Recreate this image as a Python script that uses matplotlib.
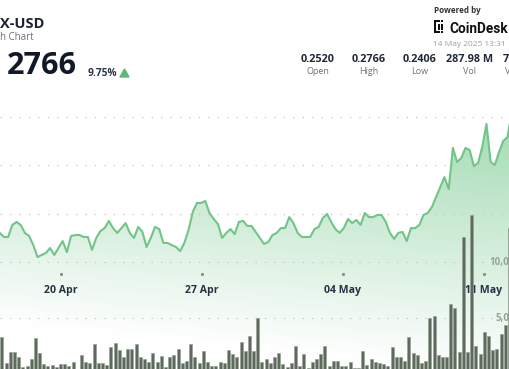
import numpy as np
import pandas as pd
import matplotlib
matplotlib.use("Agg")
import matplotlib.pyplot as plt
import matplotlib.dates as mdates
from matplotlib.patches import Polygon, Rectangle
from matplotlib.transforms import blended_transform_factory

W, H, DPI = 510, 369, 100

# ---------------- data ----------------
prices = [
    0.2150, 0.2129, 0.2129, 0.2191, 0.2207, 0.2191, 0.2150, 0.2134, 0.2087, 0.2025,
    0.2036, 0.2046, 0.2072, 0.2036, 0.2072, 0.2108, 0.2051, 0.2134, 0.2139, 0.2139,
    0.2129, 0.2129, 0.2062, 0.2124, 0.2160, 0.2175, 0.2212, 0.2175, 0.2150, 0.2175,
    0.2201, 0.2150, 0.2124, 0.2181, 0.2155, 0.2077, 0.2124, 0.2181, 0.2170, 0.2098,
    0.2098, 0.2087,
    0.2077, 0.2056, 0.2098, 0.2165, 0.2258, 0.2305, 0.2305, 0.2315, 0.2253, 0.2222,
    0.2196, 0.2124, 0.2150, 0.2170, 0.2144, 0.2207, 0.2212, 0.2186, 0.2186, 0.2155,
    0.2124, 0.2093, 0.2103, 0.2139, 0.2150, 0.2175, 0.2175, 0.2232, 0.2201, 0.2150,
    0.2129, 0.2129, 0.2129, 0.2170, 0.2181, 0.2227, 0.2248, 0.2207, 0.2170, 0.2150,
    0.2175, 0.2222, 0.2201, 0.2217, 0.2191, 0.2253, 0.2232, 0.2232, 0.2243, 0.2243,
    0.2207, 0.2150, 0.2119, 0.2150, 0.2155, 0.2108, 0.2175, 0.2175, 0.2191, 0.2243,
    0.2253, 0.2284, 0.2336, 0.2388, 0.2439, 0.2377, 0.2590, 0.2517, 0.2538, 0.2590,
    0.2579, 0.2496, 0.2512, 0.2595, 0.2714, 0.2517, 0.2502, 0.2569, 0.2626, 0.2646,
    0.2766,
]
volumes = [
    3304, 982, 1964, 1964, 1518, 625, 714, 1339, 3214, 1875,
    893, 714, 804, 625, 893, 893, 714, 1071, 268, 1696,
    1071, 982, 2679, 982, 982, 804, 2411, 2768, 2143, 1518,
    2232, 2232, 2679, 1518, 1339, 1071, 1875, 1071, 1607, 625,
    1518,
    1696, 2232, 982, 1161, 2679, 1518, 982, 2054, 1071, 714,
    714, 1071, 982, 2143, 1786, 1518, 2857, 2054, 3393, 2054,
    5000, 1071, 1339, 982, 1518, 1875, 893, 625, 982, 2500,
    714, 1786, 536, 1071, 1339, 1786, 2500, 714, 1161, 1161,
    714, 714, 1071, 536, 536, 2054, 804, 1339, 1071, 982,
    893, 714, 2411, 1518, 1518, 1161, 3304, 1875, 1696, 982,
    1161, 5000, 5179, 1696, 1518, 1518, 6250, 5893, 1964, 12232,
    1964, 14196, 2500, 1786, 3750, 3393, 2143, 2232, 3571, 4375,
    13036,
]
times = pd.date_range("2025-04-16 23:00", periods=len(prices), freq="5h")
bar_times = times[:len(volumes)] + pd.Timedelta(hours=2.5)

tick_dates = pd.to_datetime(["2025-04-20", "2025-04-27", "2025-05-04", "2025-05-11"])
tick_labels = ["20 Apr", "27 Apr", "04 May", "11 May"]
price_grid = [0.200, 0.225, 0.250, 0.275]
vol_ticks = [5000, 10000]
vol_tick_labels = ["5,0", "10,0"]          # as far as the reference shows them

title_text = "X-USD"
subtitle_text = "h Chart"
last_price = "2766"
change_text = "9.75%"
stat_values = ["0.2520", "0.2766", "0.2406", "287.98 M", "7"]
stat_labels = ["Open", "High", "Low", "Vol", "V"]
stamp_text = "14 May 2025 13:31"

# ---------------- styling ----------------
plt.rcParams["font.family"] = ["Open Sans", "DejaVu Sans"]
LINE = "#72c487"
FILLC = np.array([92, 191, 122]) / 255.0
BAR = "#5f6a5e"
BAR_EDGE = "#98a396"
GRID = "#c4c4c4"
DARK = "#1b2333"
GREY = "#6b7280"

fig = plt.figure(figsize=(W / DPI, H / DPI), dpi=DPI)
fig.patch.set_facecolor("white")

# pixel scale of the chart area
px_per_day = 20.14
x0 = mdates.date2num(pd.Timestamp("2025-04-20")) - 61 / px_per_day
x1 = x0 + W / px_per_day
px_per_price = 48.3 / 0.025
p_lo = 0.275 - (H - 117) / px_per_price
p_hi = 0.275 + 117 / px_per_price
px_per_vol = 56 / 5000
v_lo = (374 - H) / px_per_vol
v_hi = 374 / px_per_vol

ax_bg = fig.add_axes([0, 0, 1, 1], zorder=1)
ax_vol = fig.add_axes([0, 0, 1, 1], zorder=2)
ax_ln = fig.add_axes([0, 0, 1, 1], zorder=3)
for a in (ax_bg, ax_vol, ax_ln):
    a.set_xlim(x0, x1)
    a.axis("off")
    a.patch.set_alpha(0)
ax_bg.set_ylim(p_lo, p_hi)
ax_ln.set_ylim(p_lo, p_hi)
ax_vol.set_ylim(v_lo, v_hi)

tnum = mdates.date2num(times)
# gradient fill under the price line
yy, xx = np.mgrid[0:H, 0:W]
alpha = np.clip(0.0022 * (325 + 0.1 * xx - yy), 0, 0.58)
img = np.zeros((H, W, 4))
img[..., :3] = FILLC
img[..., 3] = alpha
im = ax_bg.imshow(img, extent=(x0, x1, p_lo, p_hi), origin="upper",
                  aspect="auto", zorder=1, interpolation="bilinear")
verts = [(tnum[0], p_lo - 1)] + list(zip(tnum, prices)) + [(tnum[-1], p_lo - 1)]
poly = Polygon(verts, closed=True, facecolor="none", edgecolor="none")
ax_bg.add_patch(poly)
im.set_clip_path(poly)
ax_bg.set_xlim(x0, x1)
ax_bg.set_ylim(p_lo, p_hi)

# dotted grid lines
for g in price_grid:
    ax_bg.axhline(g, color=GRID, lw=0.8, dashes=(1.2, 7.3), zorder=2)
ax_vol.axhline(vol_ticks[0], color=GRID, lw=0.8, dashes=(1.2, 7.3), zorder=0)

# date ticks
tr = blended_transform_factory(ax_bg.transData, ax_bg.transAxes)
ax_bg.plot(mdates.date2num(tick_dates), [1 - 274 / H] * len(tick_dates), ls="none",
           marker="s", ms=1.1, color="#8c8c8c", transform=tr, zorder=3)
for d, lab in zip(tick_dates, tick_labels):
    ax_bg.text(mdates.date2num(d), 1 - 292.5 / H, lab, transform=tr, ha="center",
               va="baseline", fontsize=7.6, fontweight="bold", color="#283142", zorder=3)

# volume axis labels (as far as visible at the right edge)
vtr = blended_transform_factory(ax_vol.transAxes, ax_vol.transData)
ax_vol.text(489 / W, vol_ticks[1], vol_tick_labels[1], transform=vtr, ha="left",
            va="center", fontsize=7, fontweight="bold", color="#9aa39a", zorder=0)
ax_vol.text(496 / W, vol_ticks[0], vol_tick_labels[0], transform=vtr, ha="left",
            va="center", fontsize=7, fontweight="bold", color="#9aa39a", zorder=0)

# volume bars
bw = 3.0 / px_per_day
ax_vol.bar(mdates.date2num(bar_times), volumes, width=bw, color=BAR,
           edgecolor=BAR_EDGE, linewidth=0.5, zorder=2)

# price line
ax_ln.plot(tnum, prices, color=LINE, lw=1.5, solid_joinstyle="round", zorder=3)

# ---------------- header ----------------
def ftext(x, y, s, **kw):
    fig.text(x / W, 1 - y / H, s, va="baseline", **kw)

ftext(0.5, 28, title_text, ha="left", fontsize=10.5, fontweight="bold", color=DARK)
ftext(0.5, 40, subtitle_text, ha="left", fontsize=7, color=GREY)
ftext(77, 74, last_price, ha="right", fontsize=22, fontweight="bold", color="#111827")
ftext(88, 76, change_text, ha="left", fontsize=7.3, fontweight="bold", color="#2d3748")
fig.add_artist(Polygon([(120 / W, 1 - 77 / H), (129 / W, 1 - 77 / H), (124.5 / W, 1 - 69 / H)],
                       closed=True, transform=fig.transFigure, color="#5cb874"))

ftext(434, 13, "Powered by", ha="left", fontsize=5.8, fontweight="bold", color="#333333")
# CoinDesk logo (approximation)
for (rx, ry, rw, rh) in [(434, 20, 2.2, 13), (434, 20, 6, 2.2), (434, 30.8, 6, 2.2),
                         (441, 20, 2.2, 2.2), (441, 30.8, 2.2, 2.2), (438, 24.5, 2, 2),
                         (438, 27.5, 2, 2), (441, 24.5, 2, 2), (441, 27.5, 2, 2)]:
    fig.add_artist(Rectangle((rx / W, 1 - (ry + rh) / H), rw / W, rh / H,
                             transform=fig.transFigure, color="#111111", lw=0))
ftext(449.5, 33, "CoinDesk", ha="right" if False else "left", fontsize=9.8, fontweight="bold",
      color="#111111", family=["Roboto", "DejaVu Sans"])
ftext(433, 46.5, stamp_text, ha="left", fontsize=6.0, color="#9a9fa8")

stat_x = [318, 369, 420, 470]
for x, v, l in zip(stat_x, stat_values[:4], stat_labels[:4]):
    ftext(x, 62, v, ha="center", fontsize=7.8, fontweight="bold", color="#1f2937")
    ftext(x, 74, l, ha="center", fontsize=6.5, color=GREY)
ftext(502.5, 62, stat_values[4], ha="left", fontsize=7.8, fontweight="bold", color="#1f2937")
ftext(505, 74, stat_labels[4], ha="left", fontsize=6.5, color=GREY)

fig.savefig("out.png", dpi=DPI, facecolor="white")
